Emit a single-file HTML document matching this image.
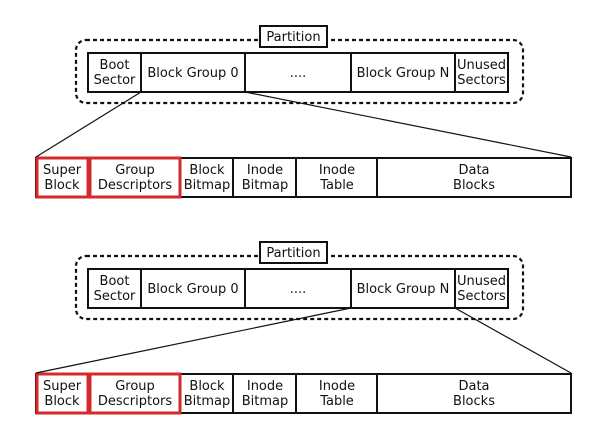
<!DOCTYPE html>
<html><head><meta charset="utf-8"><style>
html,body{margin:0;padding:0;background:#fff;width:607px;height:436px;overflow:hidden}
svg{display:block}
text{font-family:"DejaVu Sans","Liberation Sans",sans-serif;font-size:13px;fill:#111;text-anchor:middle}
</style></head><body>
<svg width="607" height="436" viewBox="0 0 607 436" xmlns="http://www.w3.org/2000/svg">
<defs>
<g id="d">
  <rect x="76" y="40" width="447" height="63" rx="10" fill="none" stroke="#111" stroke-width="2.2" stroke-dasharray="4,3"/>
  <rect x="260" y="26" width="67" height="21" fill="#fff" stroke="#111" stroke-width="2"/>
  <text x="293.5" y="41">Partition</text>
  <rect x="88" y="53" width="420" height="39" fill="#fff" stroke="#111" stroke-width="2"/>
  <line x1="141" y1="53" x2="141" y2="92" stroke="#111" stroke-width="2"/>
  <line x1="245" y1="53" x2="245" y2="92" stroke="#111" stroke-width="2"/>
  <line x1="351" y1="53" x2="351" y2="92" stroke="#111" stroke-width="2"/>
  <line x1="455" y1="53" x2="455" y2="92" stroke="#111" stroke-width="2"/>
  <text x="114.5" y="69">Boot</text><text x="114.5" y="84">Sector</text>
  <text x="193" y="77">Block Group 0</text>
  <text x="298" y="77">....</text>
  <text x="403" y="77">Block Group N</text>
  <text x="481.5" y="69">Unused</text><text x="481.5" y="84">Sectors</text>

  <rect x="36" y="158" width="535" height="39" fill="#fff" stroke="#111" stroke-width="2"/>
  <line x1="233" y1="158" x2="233" y2="197" stroke="#111" stroke-width="2"/>
  <line x1="296" y1="158" x2="296" y2="197" stroke="#111" stroke-width="2"/>
  <line x1="377" y1="158" x2="377" y2="197" stroke="#111" stroke-width="2"/>
  <rect x="37" y="158" width="51" height="39" fill="none" stroke="#d42a2e" stroke-width="3"/>
  <rect x="90" y="158" width="90" height="39" fill="none" stroke="#d42a2e" stroke-width="3"/>
  <text x="62" y="174">Super</text><text x="62" y="189">Block</text>
  <text x="135" y="174">Group</text><text x="135" y="189">Descriptors</text>
  <text x="207" y="174">Block</text><text x="207" y="189">Bitmap</text>
  <text x="265" y="174">Inode</text><text x="265" y="189">Bitmap</text>
  <text x="337" y="174">Inode</text><text x="337" y="189">Table</text>
  <text x="474" y="174">Data</text><text x="474" y="189">Blocks</text>
</g>
</defs>
<use href="#d"/>
<line x1="141" y1="92" x2="36" y2="157" stroke="#111" stroke-width="1.2"/>
<line x1="245" y1="92" x2="571" y2="157" stroke="#111" stroke-width="1.2"/>
<use href="#d" transform="translate(0,216)"/>
<line x1="351" y1="308" x2="36" y2="373" stroke="#111" stroke-width="1.2"/>
<line x1="455" y1="308" x2="571" y2="373" stroke="#111" stroke-width="1.2"/>
</svg>
</body></html>
